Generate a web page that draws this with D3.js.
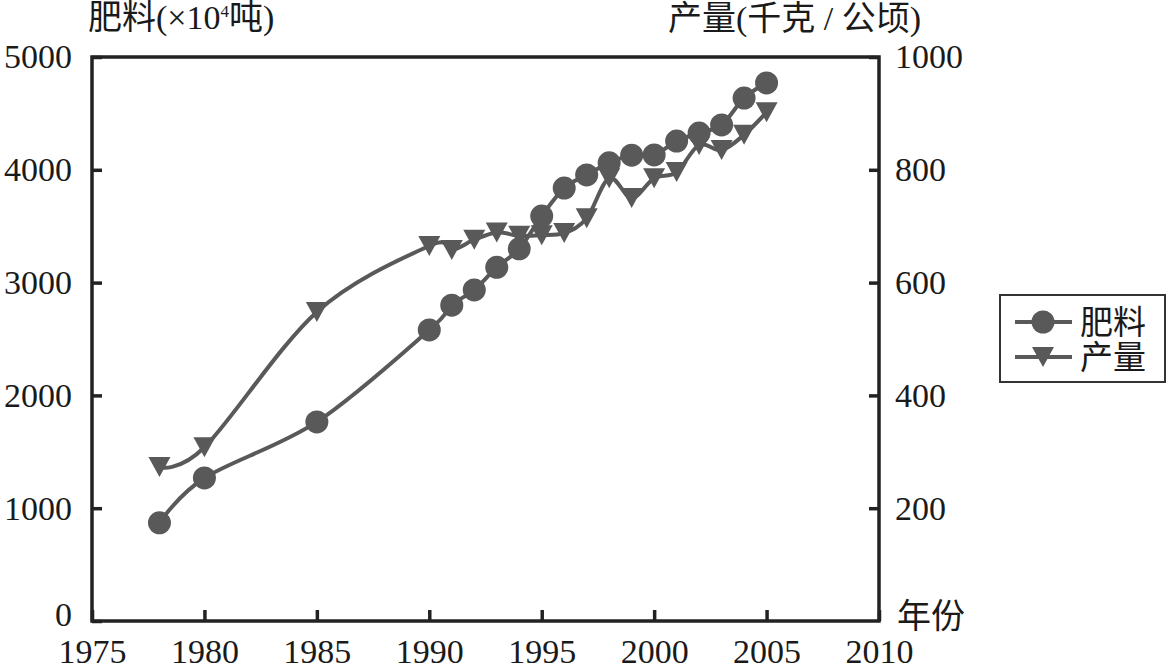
<!DOCTYPE html>
<html>
<head>
<meta charset="utf-8">
<script src="https://cdn.jsdelivr.net/npm/d3@7"></script>
<style>
  body { margin: 0; background: #fff; }
  svg text { font-family: "Liberation Serif", "Times New Roman", "DejaVu Serif", "Noto Sans CJK SC", serif; fill: #1a1a1a; }
</style>
</head>
<body>
<div id="chart"></div>
<script>
var years = [1978, 1980, 1985, 1990, 1991, 1992, 1993, 1994, 1995, 1996, 1997, 1998, 1999, 2000, 2001, 2002, 2003, 2004, 2005];
var fertilizer = [870, 1268, 1765, 2580, 2800, 2935, 3135, 3300, 3590, 3838, 3955, 4062, 4130, 4132, 4255, 4326, 4398, 4636, 4770];
var yieldPerHa = [273, 308, 548, 665, 658, 676, 689, 683, 684, 688, 714, 785, 750, 785, 796, 844, 835, 862, 902];
var xTicks = [1975, 1980, 1985, 1990, 1995, 2000, 2005, 2010];
var leftTicks = [0, 1000, 2000, 3000, 4000, 5000];
var rightTicks = [200, 400, 600, 800, 1000];
var seriesNames = ["肥料", "产量"];

var width = 1173, height = 669;
var margin = {top: 57, right: 294, bottom: 48, left: 92};
var color = "#595959";

var svg = d3.select("#chart").append("svg")
  .attr("width", width)
  .attr("height", height);

var x = d3.scaleLinear()
  .domain([1975, 2010])
  .range([margin.left, width - margin.right]);

var yL = d3.scaleLinear()
  .domain([0, 5000])
  .range([height - margin.bottom, margin.top]);

var yR = d3.scaleLinear()
  .domain([0, 1000])
  .range([height - margin.bottom, margin.top]);

var data = years.map(function(d, i) {
  return {year: d, fert: fertilizer[i], yld: yieldPerHa[i]};
});

var xAxis = d3.axisBottom(x).tickValues(xTicks).tickSize(-11).tickPadding(18).tickFormat(d3.format("d"));
var yAxis = d3.axisLeft(yL).tickValues(leftTicks).tickSize(-10).tickPadding(20).tickFormat(d3.format("d"));
var yRAxis = d3.axisRight(yR).tickValues(rightTicks).tickSize(-10).tickPadding(16).tickFormat(d3.format("d"));

function styleAxis(g) {
  g.attr("font-family", null);
  g.select(".domain").remove();
  g.selectAll(".tick line").attr("stroke", "#222").attr("stroke-width", 3.5);
  g.selectAll(".tick text").style("font-size", "34px").attr("fill", "#1a1a1a");
}

svg.append("g")
  .attr("transform", "translate(0," + (height - margin.bottom) + ")")
  .call(xAxis)
  .call(styleAxis);

svg.append("g")
  .attr("transform", "translate(" + margin.left + ",0)")
  .call(yAxis)
  .call(styleAxis)
  .selectAll(".tick text")
  .filter(function(d) { return d === 0; })
  .attr("dy", "0.12em");

svg.append("g")
  .attr("transform", "translate(" + (width - margin.right) + ",0)")
  .call(yRAxis)
  .call(styleAxis);

svg.append("rect")
  .attr("x", margin.left)
  .attr("y", margin.top)
  .attr("width", width - margin.left - margin.right)
  .attr("height", height - margin.top - margin.bottom)
  .attr("fill", "none")
  .attr("stroke", "#222")
  .attr("stroke-width", 3.5);

var lineFert = d3.line()
  .curve(d3.curveCardinal.tension(0))
  .x(function(d) { return x(d.year); })
  .y(function(d) { return yL(d.fert); });

var lineYld = d3.line()
  .curve(d3.curveCardinal.tension(0))
  .x(function(d) { return x(d.year); })
  .y(function(d) { return yR(d.yld); });

svg.append("path")
  .datum(data)
  .attr("fill", "none")
  .attr("stroke", color)
  .attr("stroke-width", 4)
  .attr("d", lineYld);

svg.append("path")
  .datum(data)
  .attr("fill", "none")
  .attr("stroke", color)
  .attr("stroke-width", 4)
  .attr("d", lineFert);

var tri = "M-11,-10L11,-10L0,10Z";

svg.selectAll(".tri")
  .data(data)
  .enter().append("path")
  .attr("class", "tri")
  .attr("d", tri)
  .attr("fill", color)
  .attr("transform", function(d) {
    return "translate(" + x(d.year) + "," + yR(d.yld) + ")";
  });

svg.selectAll(".dot")
  .data(data)
  .enter().append("circle")
  .attr("class", "dot")
  .attr("cx", function(d) { return x(d.year); })
  .attr("cy", function(d) { return yL(d.fert); })
  .attr("r", 11.5)
  .attr("fill", color);

// titles
var t1 = svg.append("text")
  .attr("x", 88)
  .attr("y", 29)
  .style("font-size", "34px");
t1.append("tspan").text("肥料(×10");
t1.append("tspan").attr("dy", -12).style("font-size", "17px").text("4");
t1.append("tspan").attr("dy", 12).text("吨)");

svg.append("text")
  .attr("x", 668)
  .attr("y", 30)
  .style("font-size", "34px")
  .text("产量(千克 / 公顷)");

svg.append("text")
  .attr("x", 897)
  .attr("y", 628)
  .style("font-size", "34px")
  .text("年份");

// legend
var legend = svg.append("g");

legend.append("rect")
  .attr("x", 1000)
  .attr("y", 295)
  .attr("width", 165)
  .attr("height", 87)
  .attr("fill", "#fff")
  .attr("stroke", "#333")
  .attr("stroke-width", 2);

var rows = legend.selectAll(".row")
  .data(seriesNames)
  .enter().append("g")
  .attr("class", "row")
  .attr("transform", function(d, i) { return "translate(0," + (322 + i * 35) + ")"; });

rows.append("line")
  .attr("x1", 1015)
  .attr("x2", 1072)
  .attr("stroke", color)
  .attr("stroke-width", 4);

rows.filter(function(d, i) { return i == 0; })
  .append("circle")
  .attr("cx", 1043)
  .attr("r", 11.5)
  .attr("fill", color);

rows.filter(function(d, i) { return i == 1; })
  .append("path")
  .attr("d", tri)
  .attr("transform", "translate(1043,0)")
  .attr("fill", color);

rows.append("text")
  .attr("x", 1080)
  .attr("y", 12)
  .style("font-size", "33px")
  .text(function(d) { return d; });
</script>
</body>
</html>
